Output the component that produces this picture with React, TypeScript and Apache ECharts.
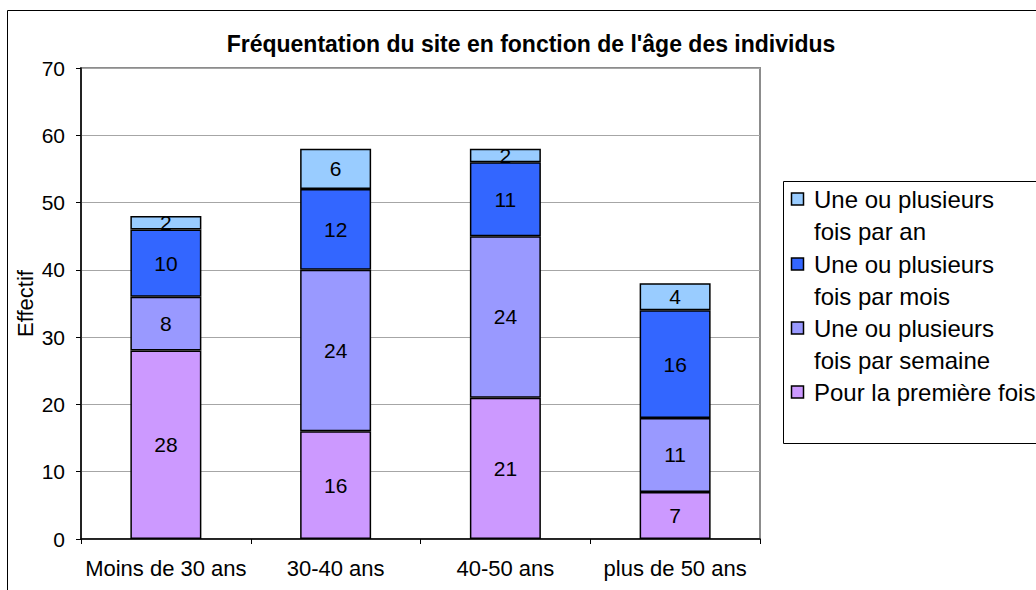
import React, { useEffect, useRef } from "react";
import * as echarts from "echarts";

const categories = ["Moins de 30 ans", "30-40 ans", "40-50 ans", "plus de 50 ans"];
const seriesNames = [
  "Pour la première fois",
  "Une ou plusieurs fois par semaine",
  "Une ou plusieurs fois par mois",
  "Une ou plusieurs fois par an",
];
const legendLabels = [
  "Pour la première fois",
  "Une ou plusieurs\nfois par semaine",
  "Une ou plusieurs\nfois par mois",
  "Une ou plusieurs\nfois par an",
];
const premiereFois = [28, 16, 21, 7];
const parSemaine = [8, 24, 24, 11];
const parMois = [10, 12, 11, 16];
const parAn = [2, 6, 2, 4];
const seriesValues = [premiereFois, parSemaine, parMois, parAn];
const colors = ["#CC99FF", "#9999FF", "#3366FF", "#99CCFF"];
const yTicks = { min: 0, max: 70, interval: 10 };

const FONT = "'Liberation Sans', Arial, sans-serif";

export default function App() {
  const ref = useRef<HTMLDivElement>(null);
  useEffect(() => {
    if (!ref.current) return;
    const chart = echarts.init(ref.current, null, { renderer: "svg" });

    const legendOrder = [3, 2, 1, 0];
    const legendCenters = [199, 264, 328, 392];
    const legendItems: any[] = [];
    legendOrder.forEach((si, i) => {
      const cy = legendCenters[i];
      legendItems.push({
        type: "rect",
        shape: { x: 791.5, y: cy - 6, width: 12, height: 12 },
        style: { fill: colors[si], stroke: "#000", lineWidth: 1.5 },
      });
      legendItems.push({
        type: "text",
        x: 814,
        y: cy - 16,
        style: {
          text: legendLabels[si],
          font: `24px ${FONT}`,
          fill: "#000",
          lineHeight: 32.5,
          verticalAlign: "top",
          align: "left",
        },
      });
    });

    chart.setOption({
      animation: false,
      backgroundColor: "#fff",
      title: {
        text: "Fréquentation du site en fonction de l'âge des individus",
        left: 531,
        top: 32,
        padding: 0,
        textAlign: "center",
        textStyle: { fontSize: 23, fontWeight: "bold", fontFamily: FONT, color: "#000" },
      },
      grid: {
        left: 81,
        right: 276,
        top: 68,
        bottom: 51,
        show: true,
        borderColor: "#8c8c8c",
        borderWidth: 2,
        backgroundColor: "#fff",
      },
      xAxis: {
        type: "category",
        data: categories,
        axisLine: { lineStyle: { color: "#000", width: 1.5 } },
        axisTick: { show: true, length: 5, lineStyle: { color: "#000" } },
        axisLabel: { color: "#000", fontSize: 22, fontFamily: FONT, margin: 18, interval: 0 },
      },
      yAxis: {
        type: "value",
        min: yTicks.min,
        max: yTicks.max,
        interval: yTicks.interval,
        name: "Effectif",
        nameLocation: "middle",
        nameRotate: 90,
        nameGap: 45,
        nameMoveOverlap: false,
        nameTextStyle: { color: "#000", fontSize: 22, fontFamily: FONT },
        axisLine: { show: true, lineStyle: { color: "#000", width: 1.5 } },
        axisTick: { show: true, length: 5, lineStyle: { color: "#000" } },
        axisLabel: { color: "#000", fontSize: 21, fontFamily: FONT, margin: 16 },
        splitLine: { show: true, lineStyle: { color: "#a6a6a6", width: 1 } },
      },
      series: seriesValues.map((vals, i) => ({
        name: seriesNames[i],
        type: "bar",
        stack: "total",
        data: vals,
        barWidth: 71,
        itemStyle: { color: colors[i], borderColor: "#000", borderWidth: 1.5 },
        label: {
          show: true,
          position: "inside",
          color: "#000",
          fontSize: 21,
          fontFamily: FONT,
        },
      })),
      graphic: [
        {
          type: "rect",
          shape: { x: 7.5, y: 10.5, width: 1100, height: 700 },
          style: { fill: "none", stroke: "#000", lineWidth: 1 },
          silent: true,
          z: 100,
        },
        {
          type: "rect",
          shape: { x: 783.5, y: 181.5, width: 400, height: 262 },
          style: { fill: "#fff", stroke: "#000", lineWidth: 1 },
        },
        ...legendItems,
      ],
    });
    return () => chart.dispose();
  }, []);
  return (
    <div
      ref={ref}
      style={{ position: "absolute", left: 0, top: 0, width: 1036, height: 590 }}
    />
  );
}
